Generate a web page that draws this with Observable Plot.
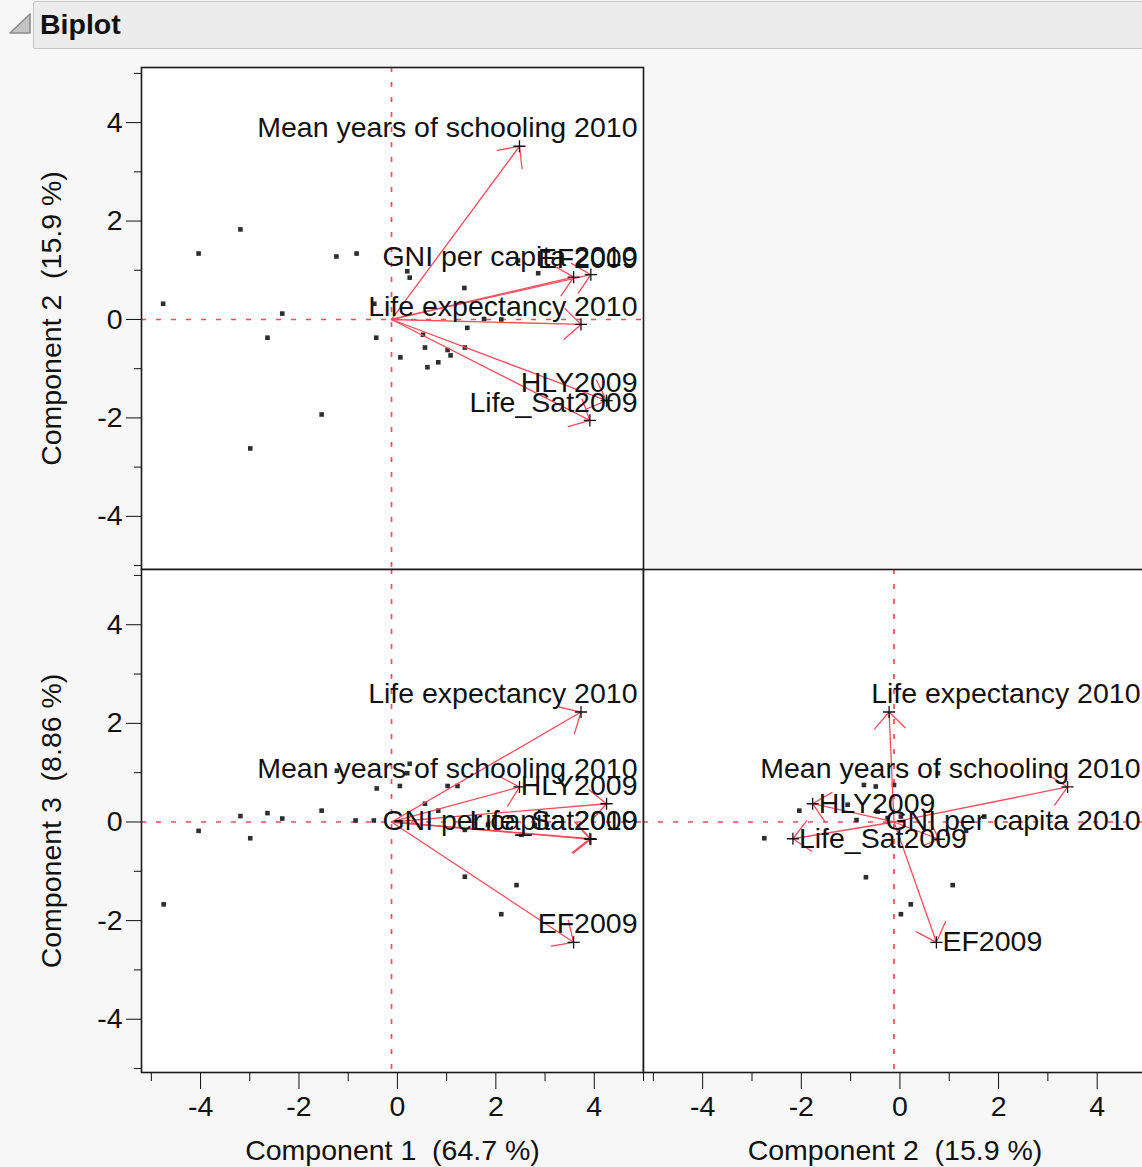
<!DOCTYPE html>
<html><head><meta charset="utf-8">
<script src="https://cdn.jsdelivr.net/npm/d3@7"></script>
<script src="https://cdn.jsdelivr.net/npm/@observablehq/plot@0.6"></script>
<style>
body{margin:0;background:#f7f7f7;}
#page{position:relative;width:1142px;height:1167px;overflow:hidden;background:#f7f7f7;font-family:'Liberation Sans',Arial,sans-serif;}
#hdr{position:absolute;left:33px;top:1px;width:1120px;height:48px;background:#ececec;border:1px solid #c6c6c6;border-radius:2px;box-sizing:border-box;}
#hdr span{position:absolute;left:6px;top:6px;font-weight:bold;font-size:28.5px;color:#111;}
#tri{position:absolute;left:7px;top:12px;}
.panel{position:absolute;}
</style></head><body>
<div id="page">
  <svg id="tri" width="26" height="24"><path d="M3,21 L23,21 L23,2 Z" fill="#c4c4c4" stroke="#8a8a8a" stroke-width="1.5" stroke-linejoin="round"/></svg>
  <div id="hdr"><span>Biplot</span></div>
</div>
<script>
// ---- data ----
const variables = ["Life expectancy 2010", "Mean years of schooling 2010", "GNI per capita 2010", "EF2009", "HLY2009", "Life_Sat2009"];
const comp1 = [3.85, 2.60, 4.05, 3.70, 4.37, 4.03];
const comp2 = [-0.10, 3.52, 0.91, 0.86, -1.65, -2.05];
const comp3 = [2.23, 0.71, -0.35, -2.44, 0.37, -0.34];

// score points, [x, y] per panel
const scores12 = [[-4.76,0.32],[-4.04,1.34],[-3.19,1.83],[-2.99,-2.62],[-2.64,-0.37],[-2.34,0.12],[-1.54,-1.93],[-1.24,1.28],[-0.83,1.34],[-0.47,0.32],[-0.43,-0.37],[0.06,-0.77],[0.2,0.98],[0.25,0.85],[1.36,0.64],[2.45,1.2],[2.86,0.94],[1.76,0.01],[2.11,0.0],[1.42,-0.17],[0.52,-0.31],[0.56,-0.57],[1.37,-0.57],[1.02,-0.62],[1.08,-0.73],[0.83,-0.87],[0.61,-0.97]];
const scores13 = [[-4.75,-1.67],[-4.04,-0.18],[-3.19,0.12],[-2.99,-0.33],[-2.64,0.18],[-2.34,0.07],[-1.54,0.23],[-1.23,1.04],[-0.85,0.03],[-0.48,0.03],[-0.42,0.68],[0.05,0.73],[0.2,0.99],[0.25,1.18],[1.02,0.73],[1.22,0.73],[0.56,0.37],[0.83,0.23],[1.37,-0.16],[1.84,-0.06],[2.52,-0.26],[2.79,-0.06],[1.37,-1.11],[2.42,-1.28],[2.11,-1.87]];
const scores23 = [[-2.04,0.23],[-2.75,-0.33],[-0.73,0.75],[-0.49,0.72],[-0.12,0.75],[-1.06,0.35],[-0.45,0.21],[-0.88,0.04],[-0.25,0.08],[0.02,0.11],[0.77,0.99],[1.71,0.11],[-0.69,-1.12],[1.07,-1.28],[0.22,-1.67],[0.02,-1.87],[1.34,-0.18]];

const majorTicks = [-4, -2, 0, 2, 4];
const minorTicks = [-5, -3, -1, 1, 3, 5];
const titleC1 = "Component 1  (64.7 %)";
const titleC2 = "Component 2  (15.9 %)";
const titleC3 = "Component 3  (8.86 %)";

// ---- style ----
const ORIGIN_X = -0.12;
const RED = "#ff4a5c";
const XD = [-5.2, 5.0], YD = [-5.08, 5.12];
const FONT = "'Liberation Sans', Arial, sans-serif";
const LABEL_SIZE = 28.5;
const ctx = document.createElement("canvas").getContext("2d");
ctx.font = LABEL_SIZE + "px 'Liberation Sans', Arial";
const measure = s => ctx.measureText(s).width;
const fmt = d => String(d);

function panel({scores, xs, ys, W, H, mL, mR, mT, mB, yTitle, xTitle}) {
  const fw = W - mL - mR, fh = H - mT - mB;
  const sx = d3.scaleLinear(XD, [0, fw]), sy = d3.scaleLinear(YD, [fh, 0]);
  const vecs = variables.map((name, i) => ({name, x: ORIGIN_X + xs[i], y: ys[i]}));
  const labels = vecs.map(v => {
    const w = measure(v.name);
    const px = sx(v.x), py = sy(v.y);
    const clamped = px + 6 + w > fw - 6;
    const lx = clamped ? fw - 6 - w : px + 6;
    const ly = clamped ? py - 18 : py;
    return {name: v.name, x: sx.invert(lx), y: sy.invert(ly)};
  });
  const marks = [
    Plot.frame({fill: "white", stroke: null}),
    Plot.ruleY([0], {stroke: RED, strokeWidth: 1.7, strokeDasharray: "5,10"}),
    Plot.ruleX([ORIGIN_X], {stroke: RED, strokeWidth: 1.7, strokeDasharray: "5,10"}),
    Plot.dot(scores, {x: d => d[0], y: d => d[1], symbol: "square", r: 2.6, fill: "#2e2e2e", stroke: null}),
    Plot.arrow(vecs, {x1: () => ORIGIN_X, y1: () => 0, x2: "x", y2: "y", stroke: RED, strokeWidth: 1.3, headLength: 26, headAngle: 86}),
    Plot.dot(vecs, {x: "x", y: "y", symbol: "plus", r: 4, stroke: "#111", strokeWidth: 1.3}),
    Plot.text(labels, {x: "x", y: "y", text: "name", textAnchor: "start", lineAnchor: "middle", fontSize: LABEL_SIZE, fill: "#111"})
  ];
  if (yTitle) {
    marks.push(Plot.axisY({ticks: majorTicks, tickFormat: fmt, tickSize: 15, tickPadding: 4, fontSize: 28.5, label: yTitle, labelAnchor: "center", labelOffset: 101, labelArrow: "none"}));
    marks.push(Plot.axisY({ticks: minorTicks, tickSize: 7, tickFormat: () => "", label: null}));
  }
  if (xTitle) {
    marks.push(Plot.axisX({ticks: majorTicks, tickFormat: fmt, tickSize: 17, tickPadding: 6, fontSize: 28.5, label: xTitle, labelAnchor: "center", labelOffset: 87, labelArrow: "none"}));
    marks.push(Plot.axisX({ticks: minorTicks, tickSize: 9, tickFormat: () => "", label: null}));
  }
  marks.push(Plot.frame({stroke: "#1a1a1a", strokeWidth: 1.6}));
  return Plot.plot({
    width: W, height: H, marginLeft: mL, marginRight: mR, marginTop: mT, marginBottom: mB,
    x: {domain: XD, axis: null}, y: {domain: YD, axis: null},
    style: {fontFamily: FONT, fontSize: "29.5px", color: "#111", background: "transparent", overflow: "visible", maxWidth: "none"},
    marks
  });
}

const page = document.getElementById("page");
function place(el, left, top) {
  el.classList.add("panel");
  el.style.left = left + "px";
  el.style.top = top + "px";
  page.appendChild(el);
}
place(panel({scores: scores12, xs: comp1, ys: comp2, W: 700, H: 580, mL: 141, mR: 57, mT: 67, mB: 11, yTitle: titleC2}), 0, 0);
place(panel({scores: scores13, xs: comp1, ys: comp3, W: 700, H: 667, mL: 141, mR: 57, mT: 69, mB: 95, yTitle: titleC3, xTitle: titleC1}), 0, 500);
place(panel({scores: scores23, xs: comp2, ys: comp3, W: 560, H: 667, mL: 43, mR: 14, mT: 69, mB: 95, xTitle: titleC2}), 600, 500);
</script>
</body></html>
